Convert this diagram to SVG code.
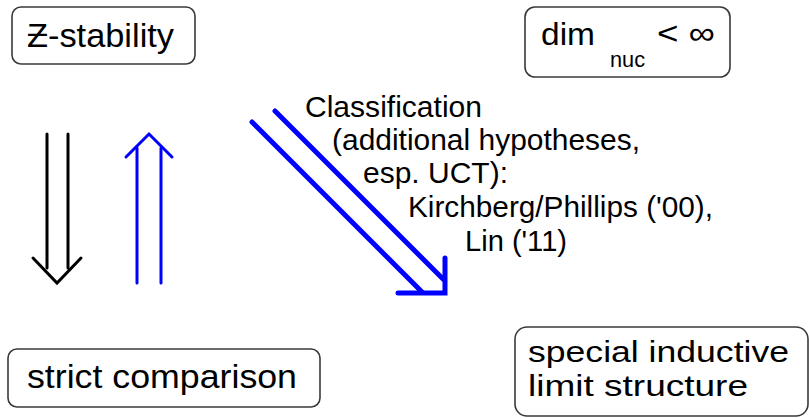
<svg xmlns="http://www.w3.org/2000/svg" width="809" height="418" viewBox="0 0 809 418">
<style>
.box{fill:#fff;stroke:#3a3a3a;stroke-width:1.6}
text{font-family:"Liberation Sans","DejaVu Sans",Arial,sans-serif;fill:#000}
.big{font-size:34px}
.lbl{font-size:29px}
.blk{fill:none;stroke:#000;stroke-width:3;stroke-linecap:round;stroke-linejoin:miter}
.blu{fill:none;stroke:#0000ff;stroke-width:3;stroke-linecap:round;stroke-linejoin:miter}
.blu5{fill:none;stroke:#0000ff;stroke-width:5;stroke-linecap:round;stroke-linejoin:miter}
</style>
<rect width="809" height="418" fill="#fff"/>
<g id="z-stability">
<rect class="box" x="12" y="7" width="183" height="57" rx="9"/>
<text class="big" x="27" y="47" textLength="147" lengthAdjust="spacingAndGlyphs">Ƶ-stability</text>
</g>
<g id="dimnuc">
<rect class="box" x="525" y="7" width="205" height="70" rx="10"/>
<text x="541" y="45" font-size="32" textLength="54" lengthAdjust="spacingAndGlyphs">dim</text>
<text x="610" y="67" font-size="22" textLength="35" lengthAdjust="spacingAndGlyphs">nuc</text>
<text x="657" y="44" font-size="32" textLength="58" lengthAdjust="spacingAndGlyphs">&lt; ∞</text>
</g>
<g id="strict-comparison">
<rect class="box" x="8" y="349" width="312" height="58" rx="9"/>
<text class="big" x="27" y="388" textLength="270" lengthAdjust="spacingAndGlyphs">strict comparison</text>
</g>
<g id="inductive-limit">
<rect class="box" x="515" y="327" width="293" height="89" rx="12"/>
<text x="528" y="362" font-size="29" textLength="261" lengthAdjust="spacingAndGlyphs">special inductive</text>
<text x="528" y="396" font-size="29" textLength="220" lengthAdjust="spacingAndGlyphs">limit structure</text>
</g>
<g id="connectors">
<line class="blk" x1="47" y1="134" x2="47" y2="268"/>
<line class="blk" x1="68" y1="134" x2="68" y2="268"/>
<polyline class="blk" points="33,258 57,283 81,258"/>
<line class="blu" x1="137" y1="283" x2="137" y2="148"/>
<line class="blu" x1="161" y1="283" x2="161" y2="148"/>
<polyline class="blu" points="126,157 149,134 172,157"/>
<line class="blu5" x1="252" y1="122" x2="422" y2="292"/>
<line class="blu5" x1="275" y1="111" x2="443" y2="279"/>
<polyline class="blu5" points="398,293 445,293 445,258"/>
</g>
<g id="classification-label" class="lbl">
<text x="305" y="117" textLength="177" lengthAdjust="spacingAndGlyphs">Classification</text>
<text x="332" y="150" textLength="308" lengthAdjust="spacingAndGlyphs">(additional hypotheses,</text>
<text x="363" y="183" textLength="145" lengthAdjust="spacingAndGlyphs">esp. UCT):</text>
<text x="408" y="217" textLength="305" lengthAdjust="spacingAndGlyphs">Kirchberg/Phillips ('00),</text>
<text x="465" y="251" textLength="102" lengthAdjust="spacingAndGlyphs">Lin ('11)</text>
</g>
</svg>
